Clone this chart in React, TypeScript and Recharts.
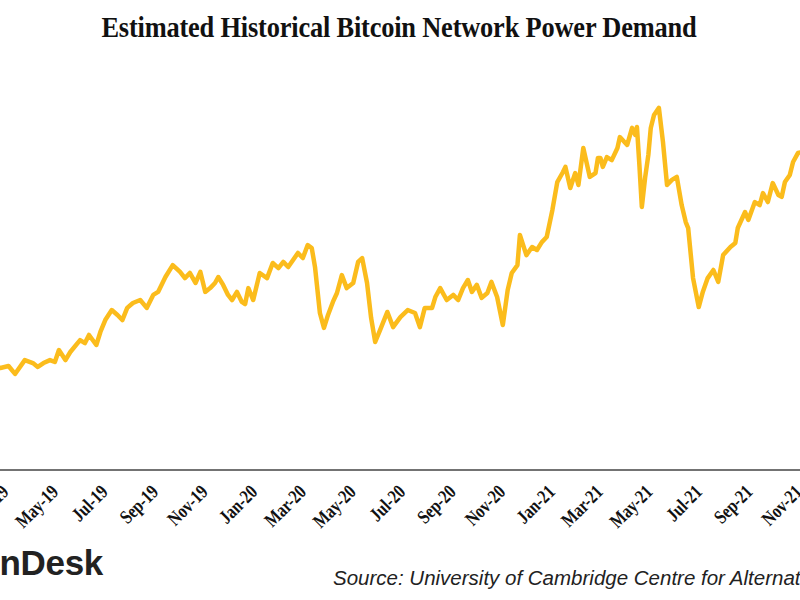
import React from 'react';
import { LineChart, Line, XAxis, YAxis } from 'recharts';

// days since 1 Mar 2019
const dayOffsets = [
  -16, -10, 0, 8, 20, 30, 36, 43, 51, 57,
  62, 70, 76, 88, 94, 99, 108, 113, 119, 127,
  134, 140, 146, 153, 162, 170, 178, 184, 193, 202,
  211, 217, 223, 230, 236, 242, 248, 254, 258, 264,
  270, 275, 281, 287, 291, 295, 301, 309, 318, 325,
  332, 338, 344, 350, 356, 362, 368, 373, 377, 383,
  388, 393, 399, 404, 410, 416, 424, 430, 435, 441,
  446, 451, 457, 466, 473, 482, 491, 500, 506, 512,
  521, 525, 531, 539, 547, 553, 559, 565, 570, 576,
  582, 589, 594, 601, 608, 614, 619, 626, 629, 637,
  644, 650, 656, 662, 669, 675, 682, 685, 691, 697,
  701, 707, 715, 722, 725, 728, 731, 736, 742, 749,
  752, 761, 767, 771, 773, 776, 779, 783, 787, 790,
  794, 800, 805, 810, 816, 822, 828, 833, 836, 842,
  849, 854, 860, 867, 873, 879, 888, 894, 897, 906,
  910, 918, 924, 928, 934, 940, 947, 951, 955, 961,
  965, 971, 986,
];

// estimated network power demand, GW
const powerGW = [
  4.84, 4.79, 4.88, 4.51, 5.16, 5.02, 4.84, 5.02, 5.16, 5.07,
  5.63, 5.16, 5.54, 6.10, 5.96, 6.34, 5.87, 6.48, 7.04, 7.51,
  7.28, 7.04, 7.61, 7.84, 7.98, 7.61, 8.22, 8.36, 9.06, 9.62,
  9.30, 9.01, 9.25, 8.78, 9.30, 8.36, 8.54, 8.78, 9.06, 8.69,
  8.22, 7.98, 8.36, 7.89, 7.79, 8.54, 7.98, 9.25, 9.01, 9.72,
  9.48, 9.77, 9.53, 9.86, 10.19, 9.95, 10.56, 10.42, 9.53, 7.37,
  6.67, 7.28, 7.89, 8.31, 9.15, 8.54, 8.78, 9.77, 9.95, 8.78,
  7.14, 6.01, 6.57, 7.42, 6.71, 7.18, 7.51, 7.37, 6.71, 7.61,
  7.61, 8.12, 8.54, 7.98, 8.22, 7.98, 8.54, 8.92, 8.36, 8.69,
  8.08, 8.31, 8.83, 8.12, 6.81, 8.45, 9.25, 9.62, 11.03, 10.09,
  10.47, 10.33, 10.70, 10.94, 12.21, 13.52, 13.99, 14.23, 13.24, 13.94,
  13.38, 15.12, 13.76, 13.94, 14.65, 14.65, 14.23, 14.69, 14.55, 15.12,
  15.63, 15.26, 16.06, 15.73, 16.10, 14.32, 12.35, 13.71, 14.79, 16.06,
  16.67, 17.00, 15.40, 13.38, 13.62, 13.76, 12.44, 11.64, 11.36, 9.01,
  7.65, 8.36, 9.01, 9.39, 8.83, 10.09, 10.47, 10.66, 11.36, 12.11,
  11.74, 12.58, 12.44, 13.00, 12.58, 13.47, 12.91, 12.82, 13.52, 13.85,
  14.46, 14.88, 15.02,
];

const tickDays = [0, 61, 122, 184, 245, 306, 366, 427, 488, 550, 611, 672, 731, 792, 853, 915, 976];
const tickLabels = [
  'Mar-19', 'May-19', 'Jul-19', 'Sep-19', 'Nov-19', 'Jan-20', 'Mar-20', 'May-20', 'Jul-20',
  'Sep-20', 'Nov-20', 'Jan-21', 'Mar-21', 'May-21', 'Jul-21', 'Sep-21', 'Nov-21',
];

const data = dayOffsets.map((d, i) => ({ d, gw: powerGW[i] }));

const DateTick = (props: any) => {
  const { x, y, payload } = props;
  const idx = tickDays.indexOf(payload.value);
  return (
    <g transform={`translate(${x + 1.3},${y + 23})`}>
      <text
        x={0}
        y={0}
        textAnchor="end"
        transform="rotate(-45) scale(0.8,1)"
        fill="#111"
        style={{ fontFamily: '"Liberation Serif", serif', fontWeight: 700, fontSize: 19.5 }}
      >
        {tickLabels[idx]}
      </text>
    </g>
  );
};

export default function App() {
  return (
    <div style={{ position: 'absolute', left: 0, top: 0, width: 800, height: 600, overflow: 'hidden', background: '#fff' }}>
      <div style={{ position: 'absolute', left: -24.1, top: 0 }}>
        <LineChart width={845.5} height={600} data={data} margin={{ top: 44, right: 0, bottom: 100, left: 0 }}>
          <XAxis
            dataKey="d"
            type="number"
            domain={[-40, 1000]}
            allowDataOverflow
            ticks={tickDays}
            interval={0}
            height={30}
            tickSize={0}
            tickMargin={0}
            tickLine={false}
            axisLine={{ stroke: '#444', strokeWidth: 1.5 }}
            tick={<DateTick />}
          />
          <YAxis type="number" domain={[0, 20]} hide allowDataOverflow />
          <Line
            type="linear"
            dataKey="gw"
            stroke="#FBBC1C"
            strokeWidth={4.5}
            strokeLinejoin="round"
            dot={false}
            isAnimationActive={false}
          />
        </LineChart>
      </div>
      <svg width={800} height={600} style={{ position: 'absolute', left: 0, top: 0, pointerEvents: 'none' }}>
        <text
          x={399}
          y={37.5}
          textAnchor="middle"
          fill="#111"
          transform="translate(399,0) scale(0.91,1) translate(-399,0)"
          style={{ fontFamily: '"Liberation Serif", serif', fontWeight: 700, fontSize: 29, letterSpacing: -0.2 }}
        >
          Estimated Historical Bitcoin Network Power Demand
        </text>
        <text
          x={103}
          y={575}
          textAnchor="end"
          fill="#222"
          style={{ fontFamily: '"Liberation Sans", Arial, sans-serif', fontWeight: 700, fontSize: 35, letterSpacing: -0.3 }}
        >
          CoinDesk
        </text>
        <text
          x={333}
          y={585}
          fill="#222"
          style={{ fontFamily: '"Liberation Sans", Arial, sans-serif', fontStyle: 'italic', fontSize: 20.5 }}
        >
          Source: University of Cambridge Centre for Alternative Finance
        </text>
      </svg>
    </div>
  );
}
